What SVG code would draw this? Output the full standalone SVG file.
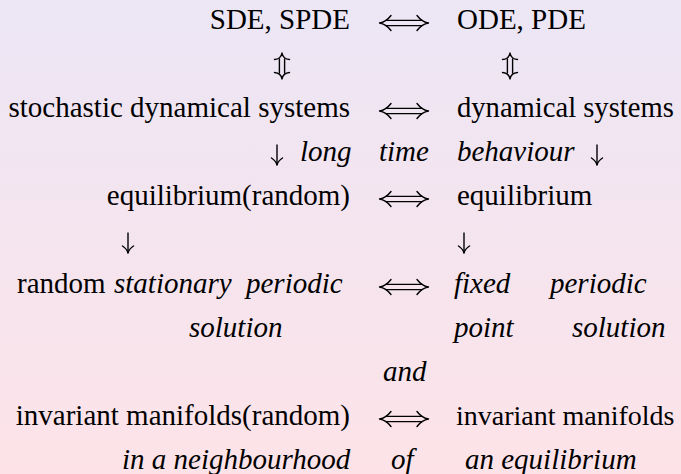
<svg xmlns="http://www.w3.org/2000/svg" xmlns:xlink="http://www.w3.org/1999/xlink" width="681" height="474" viewBox="0 0 681 474" font-family="'Liberation Serif', 'Times New Roman', 'DejaVu Serif', serif">
<defs>
<linearGradient id="bg" x1="0" y1="0" x2="0" y2="1">
<stop offset="0" stop-color="#ece6f5"/>
<stop offset="1" stop-color="#fde3e8"/>
</linearGradient>
<style>
text{font-family:'Liberation Serif','Times New Roman','DejaVu Serif',serif;font-size:29px;fill:#000}
.it{font-style:italic}
.r{text-anchor:end}
.ar{fill:none;stroke:#000;stroke-width:1.4;stroke-linecap:round;stroke-linejoin:round}
</style>
<g id="lr" class="ar">
<path d="M386,-2.6H422M386,2.6H422"/>
<path d="M391,-7.5Q386,-1 379.5,0Q386,1 391,7.5"/>
<path d="M417,-7.5Q422,-1 428.5,0Q422,1 417,7.5"/>
</g>
<g id="ud" class="ar">
<path d="M-2.6,5V19M2.6,5V19"/>
<path d="M-7.5,5.5Q-1,5 0,-1Q1,5 7.5,5.5"/>
<path d="M-7.5,18.5Q-1,19 0,25Q1,19 7.5,18.5"/>
</g>
<g id="dn" class="ar">
<path d="M0,0V19.5"/>
<path d="M-5.5,13Q-1,16 0,20Q1,16 5.5,13"/>
</g>
</defs>
<rect width="681" height="474" fill="url(#bg)"/>

<g id="connectors">
<use xlink:href="#lr" y="23"/>
<use xlink:href="#ud" x="282" y="54"/>
<use xlink:href="#ud" x="510" y="54"/>
<use xlink:href="#lr" y="111"/>
<use xlink:href="#dn" x="277" y="145"/>
<use xlink:href="#dn" x="597" y="145"/>
<use xlink:href="#lr" y="199"/>
<use xlink:href="#dn" x="128" y="233"/>
<use xlink:href="#dn" x="464" y="233"/>
<use xlink:href="#lr" y="287"/>
<use xlink:href="#lr" y="419"/>
</g>

<g id="sde"><text x="350" y="29" class="r">SDE, SPDE</text></g>
<g id="ode"><text x="457" y="29">ODE, PDE</text></g>
<g id="sds"><text x="350" y="117" class="r">stochastic dynamical systems</text></g>
<g id="ds"><text x="457" y="117" style="font-size:28.6px">dynamical systems</text></g>
<g id="ltb">
<text x="300" y="161" class="it">long</text>
<text x="379" y="161" class="it">time</text>
<text x="457" y="161" class="it">behaviour</text>
</g>
<g id="eqr"><text x="350" y="205" class="r">equilibrium(random)</text></g>
<g id="eq"><text x="457" y="205">equilibrium</text></g>
<g id="rsps">
<text x="17" y="293">random</text>
<text x="114" y="293" class="it">stationary</text>
<text x="246" y="293" class="it">periodic</text>
<text x="189" y="337" class="it">solution</text>
</g>
<g id="fpps">
<text x="454" y="293" class="it">fixed</text>
<text x="550" y="293" class="it">periodic</text>
<text x="454" y="337" class="it">point</text>
<text x="572" y="337" class="it">solution</text>
</g>
<g id="and"><text x="383" y="381" class="it">and</text></g>
<g id="imr"><text x="350" y="425" class="r">invariant manifolds(random)</text></g>
<g id="im"><text x="456" y="425" style="font-size:28px">invariant manifolds</text></g>
<g id="nbh">
<text x="122" y="469" class="it">in a neighbourhood</text>
<text x="391" y="469" class="it">of</text>
<text x="465" y="469" class="it">an equilibrium</text>
</g>
</svg>
